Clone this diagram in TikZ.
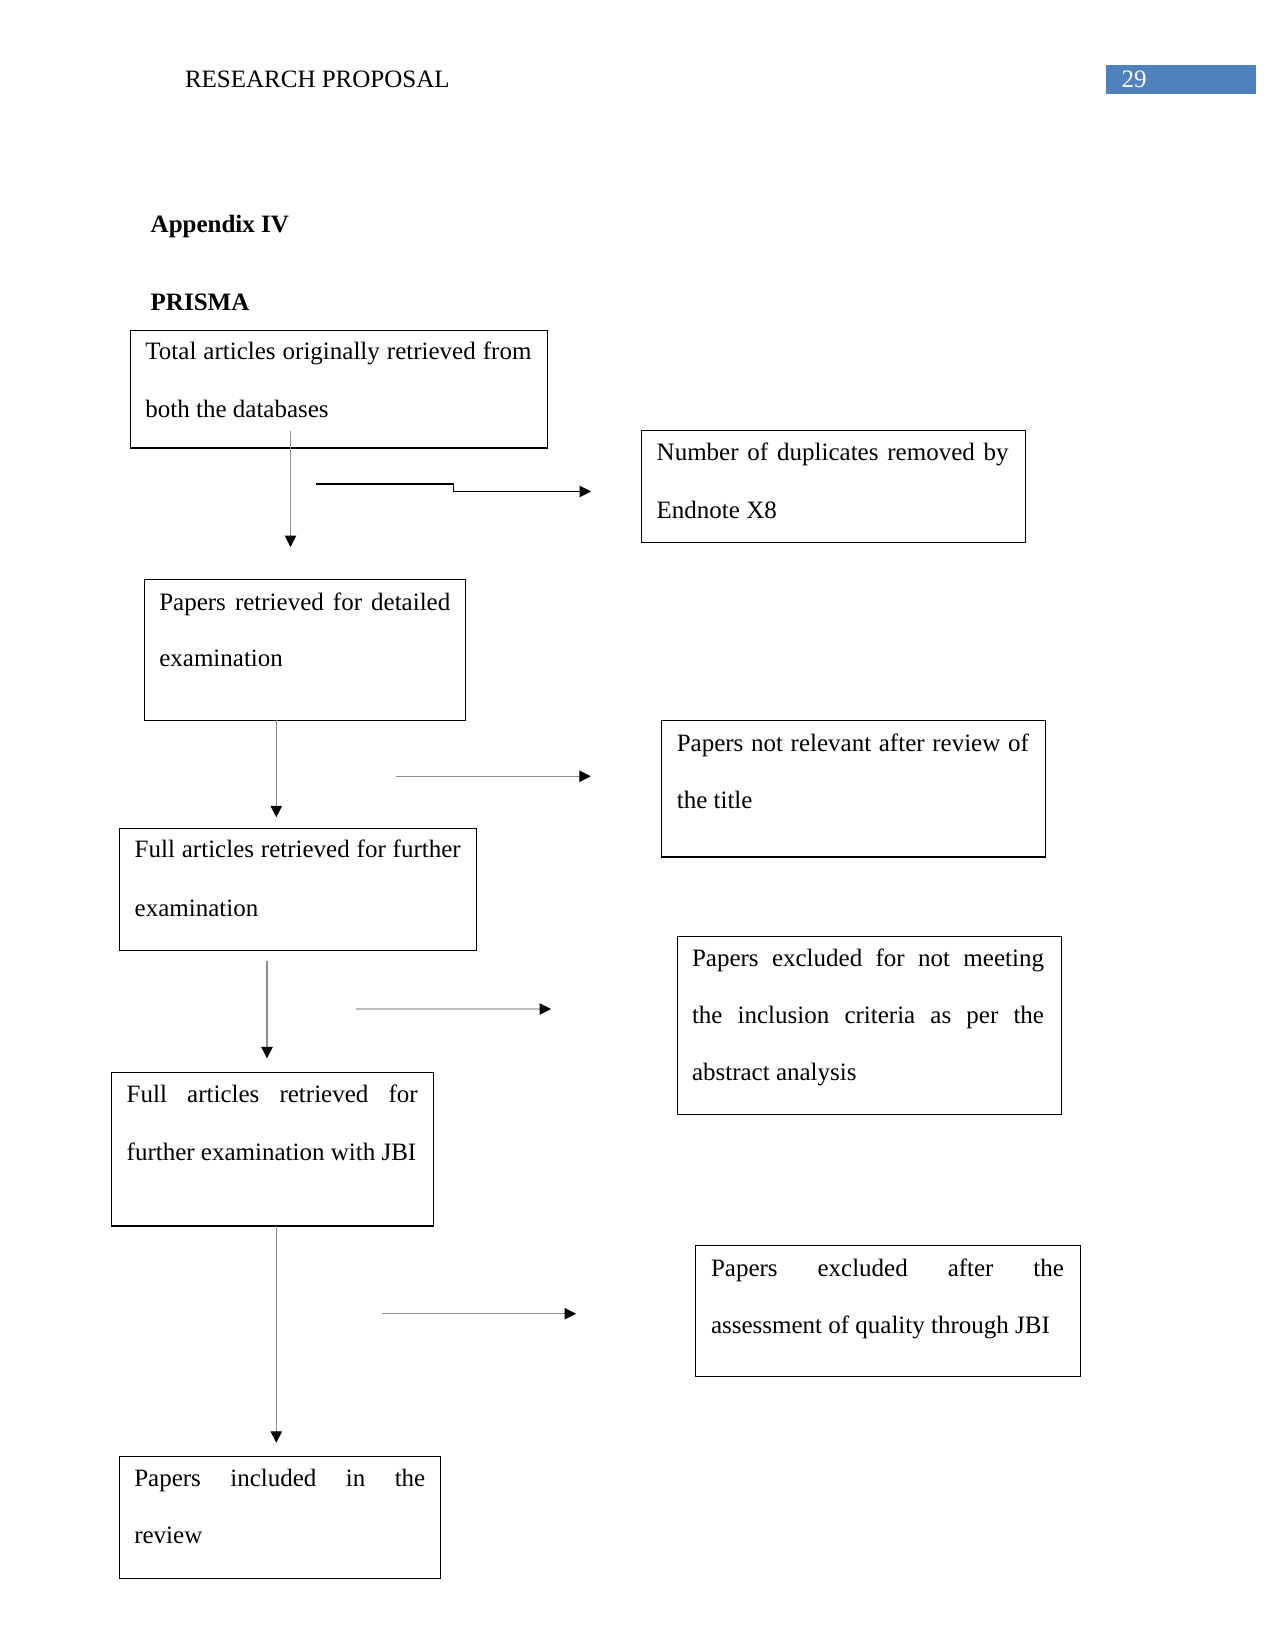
\documentclass[tikz,border=0pt]{standalone}
\usepackage{fontspec}
\setmainfont{Liberation Serif}
\usetikzlibrary{arrows.meta,fit}
\definecolor{hdrblue}{RGB}{79,129,189}
\definecolor{conngray}{RGB}{140,140,140}
\definecolor{lightgray}{RGB}{190,190,190}
\newcommand{\jline}[2]{\makebox[\dimexpr 0.48pt*#1\relax][s]{#2}}
\begin{document}
\begin{tikzpicture}[x=0.48pt,y=-0.48pt,
  box/.style={draw=black,line width=0.6pt,inner sep=0pt,outer sep=0pt},
  txt/.style={anchor=base west,inner sep=0pt,outer sep=0pt,font=\fontsize{12pt}{14pt}\selectfont},
  conn/.style={draw=conngray,line width=0.5pt,-{Triangle[length=5.5pt,width=5.5pt,color=black]}},
  blackconn/.style={draw=black,line width=0.5pt,-{Triangle[length=5.5pt,width=5.5pt,color=black]}},
]
\useasboundingbox (0,0) rectangle (1275,1650);

% header
\node[txt] (hdr) at (185,87.7) {RESEARCH PROPOSAL};
\node[fill=hdrblue,inner sep=0pt,outer sep=0pt,fit={(1106,65)(1255.7,93.7)}] (pgbox) {};
\node[txt,text=white] (pgnum) at (1121.7,87.3) {29};
\node[txt,font=\fontsize{12pt}{14pt}\selectfont\bfseries] (appx) at (150.7,232.3) {Appendix IV};
\node[txt,font=\fontsize{12pt}{14pt}\selectfont\bfseries] (prisma) at (150.7,311) {PRISMA};

% box 1
\node[box,fit={(130.5,330.7)(547.6,448)}] (b1) {};
\node[txt] (b1a) at (145.4,360) {\jline{386}{Total articles originally retrieved from}};
\node[txt] (b1b) at (145.4,418) {both the databases};

% box 2
\node[box,fit={(641.3,430.7)(1025.3,542.3)}] (b2) {};
\node[txt] (b2a) at (656.7,460) {\jline{352}{Number of duplicates removed by}};
\node[txt] (b2b) at (656.7,518) {Endnote X8};

% box 3
\node[box,fit={(144.3,579.3)(465.7,720.3)}] (b3) {};
\node[txt] (b3a) at (159.3,610) {\jline{291}{Papers retrieved for detailed}};
\node[txt] (b3b) at (159.3,666.7) {examination};

% box 4
\node[box,fit={(661.6,720.7)(1045.6,857)}] (b4) {};
\node[txt] (b4a) at (676.8,751.7) {\jline{352}{Papers not relevant after review of}};
\node[txt] (b4b) at (676.8,808.3) {the title};

% box 5
\node[box,fit={(119.3,828.7)(476.7,950.3)}] (b5) {};
\node[txt] (b5a) at (134.7,857.7) {\jline{326}{Full articles retrieved for further}};
\node[txt] (b5b) at (134.7,916) {examination};

% box 6
\node[box,fit={(111.3,1072.7)(433.3,1226)}] (b6) {};
\node[txt] (b6a) at (126.7,1102.7) {\jline{291}{Full articles retrieved for}};
\node[txt] (b6b) at (126.7,1160) {further examination with JBI};

% box 7
\node[box,fit={(677.5,936.3)(1061.5,1114.3)}] (b7) {};
\node[txt] (b7a) at (692,966) {\jline{352}{Papers excluded for not meeting}};
\node[txt] (b7b) at (692,1023.3) {\jline{352}{the inclusion criteria as per the}};
\node[txt] (b7c) at (692,1080.7) {abstract analysis};

% box 8
\node[box,fit={(119.3,1456.7)(440.3,1578.3)}] (b8) {};
\node[txt] (b8a) at (134.3,1486.7) {\jline{291}{Papers included in the}};
\node[txt] (b8b) at (134.3,1543.3) {review};

% box 9
\node[box,fit={(695.7,1245.3)(1080.7,1376.3)}] (b9) {};
\node[txt] (b9a) at (711,1276) {\jline{353}{Papers excluded after the}};
\node[txt] (b9b) at (711,1333.3) {assessment of quality through JBI};

% connectors
\coordinate (a1s) at (290.5,431);
\coordinate (a1e) at (290.5,547);
\draw[conn] (a1s) -- (a1e);

\coordinate (e1s) at (316,484);
\coordinate (e1m1) at (453.3,484);
\coordinate (e1m2) at (453.3,491.5);
\coordinate (e1e) at (591,491.5);
\draw[blackconn] (e1s) -- (e1m1) -- (e1m2) -- (e1e);

\coordinate (a2e) at (276.3,817.3);
\draw[conn] (b3.south -| a2e) -- (a2e);

\coordinate (h2s) at (396,776.3);
\coordinate (h2e) at (590.7,776.3);
\draw[conn] (h2s) -- (h2e);

\coordinate (a3s) at (267,961);
\coordinate (a3e) at (267,1058.3);
\draw[conn] (a3s) -- (a3e);

\coordinate (h3s) at (356,1009);
\coordinate (h3e) at (551,1009);
\draw[conn,draw=lightgray] (h3s) -- (h3e);

\coordinate (a4e) at (276.3,1442.7);
\draw[conn] (b6.south -| a4e) -- (a4e);

\coordinate (h4s) at (381.7,1313.7);
\coordinate (h4e) at (576,1313.7);
\draw[conn] (h4s) -- (h4e);
\end{tikzpicture}
\end{document}
